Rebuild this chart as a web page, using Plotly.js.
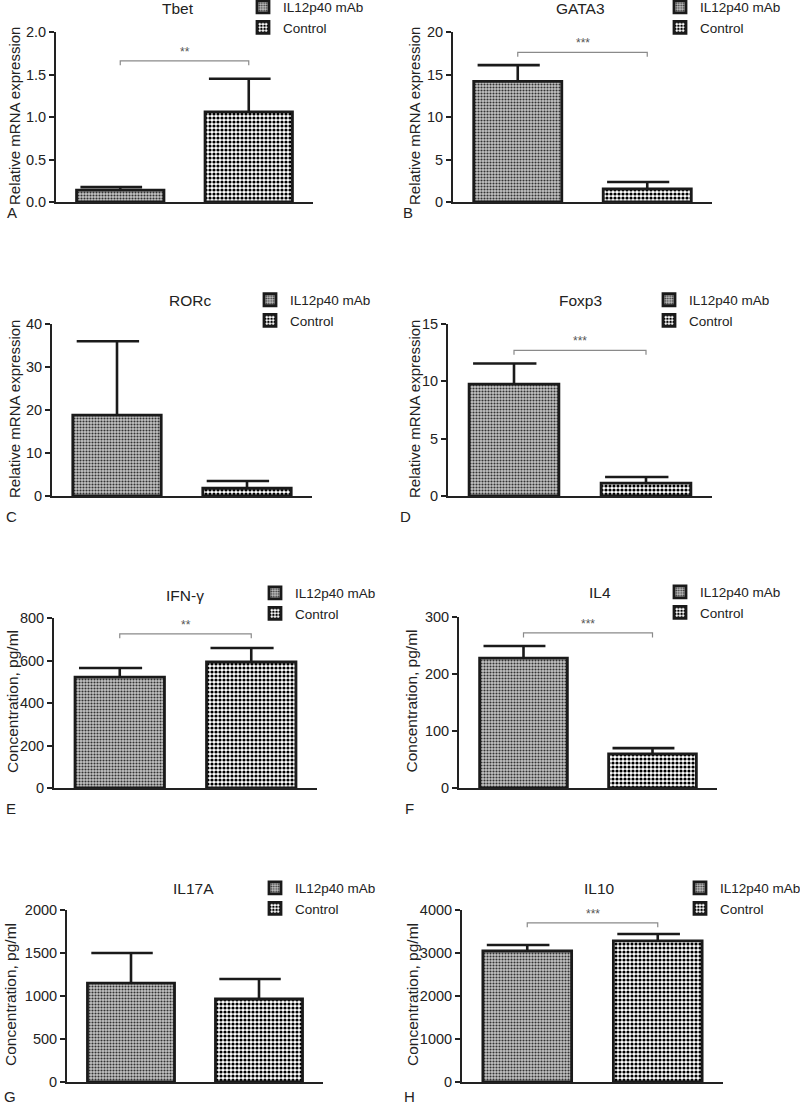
<!DOCTYPE html>
<html>
<head>
<meta charset="utf-8">
<script src="https://cdn.plot.ly/plotly-3.0.1.min.js"></script>
<style>html,body{margin:0;padding:0;background:#fff;}#chart{width:800px;height:1106px;}</style>
</head>
<body>
<div id="chart"></div>
<script>
// ---- data ----
const groups = ['IL12p40 mAb', 'Control'];
const panelTitles = ['Tbet', 'GATA3', 'RORc', 'Foxp3', 'IFN-γ', 'IL4', 'IL17A', 'IL10'];
const panelLetters = ['A', 'B', 'C', 'D', 'E', 'F', 'G', 'H'];
const yTitles = ['Relative mRNA expression', 'Relative mRNA expression', 'Relative mRNA expression', 'Relative mRNA expression',
                 'Concentration, pg/ml', 'Concentration, pg/ml', 'Concentration, pg/ml', 'Concentration, pg/ml'];
const mabMeans = [0.14, 14.2, 18.8, 9.75, 522, 228, 1150, 3047];
const mabErr   = [0.035, 1.9, 17.2, 1.8, 43, 21, 350, 140];
const ctrlMeans = [1.06, 1.55, 1.8, 1.13, 593, 60, 965, 3280];
const ctrlErr   = [0.39, 0.8, 1.7, 0.53, 66, 10, 233, 162];
const yMax   = [2, 20, 40, 15, 800, 300, 2000, 4000];
const yDtick = [0.5, 5, 10, 5, 200, 100, 500, 1000];
const yTickFormat = ['.1f', 'd', 'd', 'd', 'd', 'd', 'd', 'd'];
const sigLabels = ['**', '***', '', '***', '**', '***', '', '***'];
const sigLevel  = [1.66, 17.6, null, 12.7, 725, 272, null, 3700];

// ---- layout geometry (pixels) ----
const W = 800, H = 1106;
const boxes = [ // [left, right, top, bottom] of each plot area
  [56, 313, 32, 202], [453, 712, 32, 202],
  [52, 312, 324, 496], [448, 712, 324, 496],
  [54, 317, 618, 788], [459, 717, 617, 788],
  [67, 323, 910, 1082], [462, 723, 910, 1082]
];
const titlePos  = [[178, 8], [580, 8], [190, 300], [580, 300], [185, 595], [600, 592], [193, 888], [599, 888]];
const yTitleX   = [15, 415, 14, 414, 12, 411, 10, 412];
const yTitleSize = [15, 15, 15, 15, 15.5, 15.5, 15.5, 15.5];
const letterPos = [[12, 213], [408, 213], [11, 516], [406, 516], [11, 808], [410, 808], [10, 1096], [410, 1096]];
const legendPos = [[243, 7], [660, 7], [250, 300], [649, 300], [255, 593], [660, 592], [255, 888], [680, 888]];

const FONT = 'Liberation Sans, Arial, Helvetica, sans-serif';
const TXT = '#222';
const px = v => v / W, py = v => 1 - v / H;

const mabPattern  = {shape: '.', fgcolor: '#333', bgcolor: '#c4c4c4', size: 3, solidity: 0.4};
const ctrlPattern = {shape: '.', fgcolor: '#000', bgcolor: '#ffffff', size: 4, solidity: 0.5};
const patterns = [mabPattern, ctrlPattern];

const traces = [];
const layout = {
  width: W, height: H,
  margin: {l: 0, r: 0, t: 0, b: 0, autoexpand: false},
  paper_bgcolor: '#fff', plot_bgcolor: 'rgba(0,0,0,0)',
  showlegend: true,
  font: {family: FONT, color: TXT, size: 14},
  annotations: [], shapes: []
};

const capL = 0.31, capR = 0.17, barW = 0.68;

for (let i = 0; i < 8; i++) {
  const n = i + 1;
  const xa = n === 1 ? 'x' : 'x' + n, ya = n === 1 ? 'y' : 'y' + n;
  const xk = n === 1 ? 'xaxis' : 'xaxis' + n, yk = n === 1 ? 'yaxis' : 'yaxis' + n;
  const lk = n === 1 ? 'legend' : 'legend' + n;
  const [l, r, t, b] = boxes[i];
  const means = [mabMeans[i], ctrlMeans[i]];
  const errs = [mabErr[i], ctrlErr[i]];

  groups.forEach((g, k) => {
    traces.push({
      type: 'bar', x: [g], y: [means[k]], name: g, width: barW,
      xaxis: xa, yaxis: ya, legend: lk, showlegend: true,
      marker: {color: '#fff', pattern: patterns[k], line: {color: '#1a1a1a', width: 2.8}},
      error_y: {type: 'data', symmetric: false, array: [errs[k]], arrayminus: [0],
                width: 0, thickness: 2.6, color: '#1a1a1a'},
      hoverinfo: 'y'
    });
    // asymmetric cap of the error bar (as in the original figure)
    layout.shapes.push({type: 'line', xref: xa, yref: ya,
      x0: k - capL, x1: k + capR, y0: means[k] + errs[k], y1: means[k] + errs[k],
      line: {color: '#1a1a1a', width: 2.6}});
  });

  layout[xk] = {
    domain: [px(l), px(r)], anchor: ya, type: 'category',
    categoryorder: 'array', categoryarray: groups,
    range: [-0.5, 1.5], showline: true, linecolor: '#222', linewidth: 2,
    showticklabels: false, ticks: '', showgrid: false, zeroline: false, fixedrange: true
  };
  layout[yk] = {
    domain: [py(b), py(t)], anchor: xa,
    range: [0, yMax[i]], dtick: yDtick[i], tick0: 0, tickformat: yTickFormat[i],
    showline: true, linecolor: '#222', linewidth: 2,
    ticks: 'outside', ticklen: 5, tickwidth: 2, tickcolor: '#222',
    tickfont: {family: FONT, size: 14.5, color: TXT},
    showgrid: false, zeroline: false, fixedrange: true
  };

  // legend for this panel
  layout[lk] = {
    x: px(legendPos[i][0]), y: py(legendPos[i][1] - 15.5), xanchor: 'left', yanchor: 'top',
    xref: 'paper', yref: 'paper', bgcolor: 'rgba(0,0,0,0)', borderwidth: 0,
    font: {family: FONT, size: 13.5, color: TXT}, itemwidth: 30, tracegroupgap: 0,
    traceorder: 'normal', itemclick: false, itemdoubleclick: false
  };

  // panel title
  layout.annotations.push({text: panelTitles[i], xref: 'paper', yref: 'paper',
    x: px(titlePos[i][0]), y: py(titlePos[i][1]), xanchor: 'center', yanchor: 'middle',
    showarrow: false, font: {family: FONT, size: 15.5, color: TXT}});
  // y-axis title
  layout.annotations.push({text: yTitles[i], xref: 'paper', yref: 'paper',
    x: px(yTitleX[i]), y: py((t + b) / 2 - 1), xanchor: 'center', yanchor: 'middle', textangle: -90,
    showarrow: false, font: {family: FONT, size: yTitleSize[i], color: TXT}});
  // panel letter
  layout.annotations.push({text: panelLetters[i], xref: 'paper', yref: 'paper',
    x: px(letterPos[i][0]), y: py(letterPos[i][1]), xanchor: 'center', yanchor: 'middle',
    showarrow: false, font: {family: FONT, size: 15, color: TXT}});

  // significance bracket
  if (sigLevel[i] !== null) {
    const s = sigLevel[i], d = yMax[i] * 0.026;
    layout.shapes.push({type: 'path', xref: xa, yref: ya,
      path: `M 0 ${s - d} L 0 ${s} L 1 ${s} L 1 ${s - d}`,
      line: {color: '#8a8a8a', width: 1.2}});
    layout.annotations.push({text: sigLabels[i], xref: xa, yref: ya, x: 0.5, y: s,
      xanchor: 'center', yanchor: 'bottom', yshift: 0, showarrow: false,
      font: {family: FONT, size: 12, color: '#555'}});
  }
}

Plotly.newPlot('chart', traces, layout, {staticPlot: true, displayModeBar: false});
</script>
</body>
</html>
